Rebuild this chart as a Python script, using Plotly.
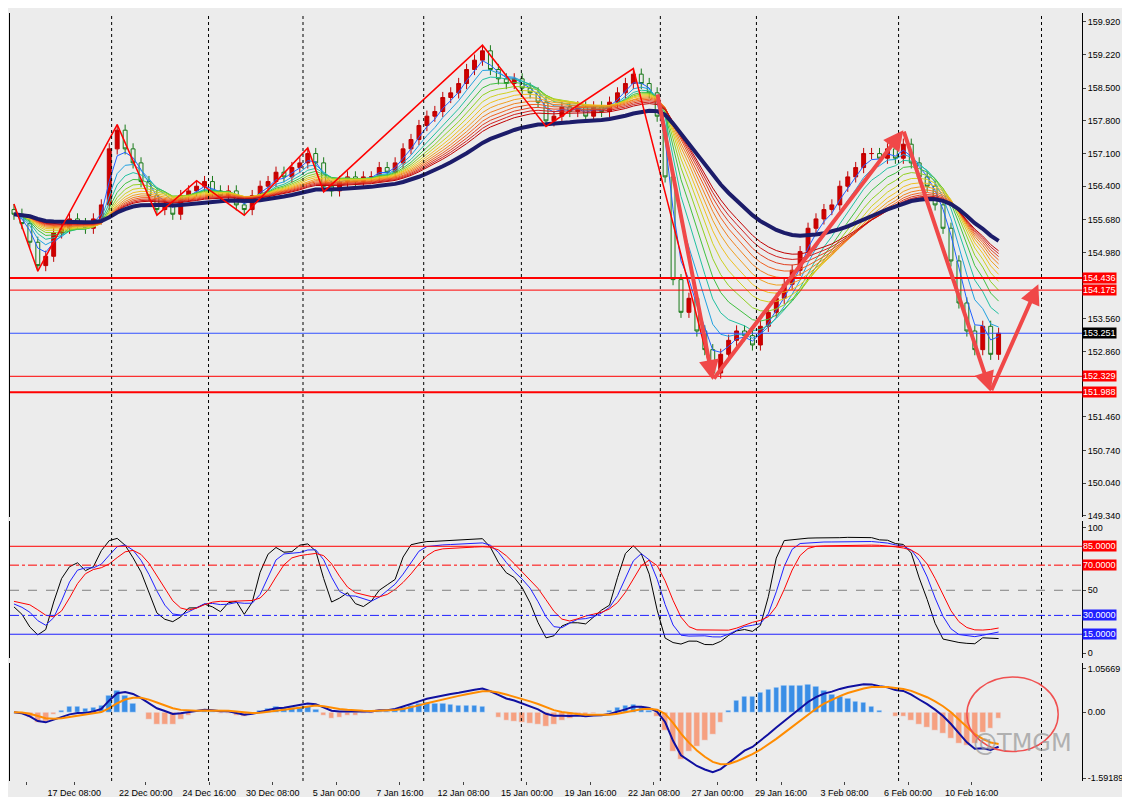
import plotly.graph_objects as go
import pandas as pd

# closes per bar
closes = [155.8, 155.6, 155.2, 154.7, 154.9, 155.4, 155.5, 155.7, 155.6, 155.5,
          155.7, 156.0, 157.2, 157.6, 157.2, 156.9, 156.5, 156.2, 155.9, 156.0,
          155.8, 156.2, 156.3, 156.4, 156.5, 156.3, 156.2, 156.3, 156.0, 155.9,
          156.2, 156.4, 156.5, 156.7, 156.6, 156.8, 156.9, 157.1, 156.9, 156.4,
          156.3, 156.5, 156.6, 156.5, 156.6, 156.6, 156.8, 156.7, 156.9, 157.2,
          157.4, 157.7, 157.9, 158.0, 158.3, 158.4, 158.6, 158.9, 159.1, 159.3,
          158.9, 158.7, 158.6, 158.7, 158.5, 158.4, 158.2, 157.8, 157.9, 158.1,
          158.0, 158.1, 157.9, 158.1, 158.0, 158.2, 158.4, 158.6, 158.8, 158.6,
          158.4, 157.9, 156.6, 154.4, 153.7, 154.0, 153.3, 152.9, 152.4, 152.8,
          153.1, 153.3, 153.2, 153.0, 153.4, 153.7, 154.0, 154.3, 154.6, 155.0,
          155.5, 155.7, 155.9, 156.0, 156.4, 156.6, 156.8, 157.1, 157.1, 157.0,
          157.2, 157.0, 157.3, 156.9, 156.6, 156.4, 156.0, 155.5, 154.8, 153.9,
          153.3, 152.9, 153.4, 152.8, 153.251]
first_open = 155.9
wick = 0.12

tick_idx = [1.6, 7.6, 16.6, 24.6, 32.6, 40.6, 48.6, 56.6, 64.6, 72.6, 80.6, 88.6, 96.6, 104.6, 112.6, 120.6]
tick_text = ["Dec 16:00", "17 Dec 08:00", "22 Dec 00:00", "24 Dec 16:00", "30 Dec 08:00",
             "5 Jan 00:00", "7 Jan 16:00", "12 Jan 08:00", "15 Jan 00:00", "19 Jan 16:00",
             "22 Jan 08:00", "27 Jan 00:00", "29 Jan 16:00", "3 Feb 08:00", "6 Feb 00:00",
             "10 Feb 16:00"]
separators = [12.3, 24.5, 36.4, 51.6, 63.9, 81.4, 93.5, 111.4, 129.4]

price_ticks = [159.920, 159.220, 158.500, 157.800, 157.100, 156.400, 155.680, 154.980,
               153.560, 152.860, 151.460, 150.740, 150.040, 149.340]
levels = [(154.436, 2, "red"), (154.175, 1, "red"), (153.251, 1, "#3050ff"),
          (152.329, 1, "red"), (151.988, 2, "red")]
zigzag_idx = [0, 3, 13, 18, 23, 29, 37, 39, 59, 67, 78, 88]
arrows = [(81, 158.4, 88, 152.25), (88, 152.25, 112, 157.6), (112, 157.6, 123, 152.0),
          (123, 152.0, 129, 154.3)]

s = pd.Series(closes)
opens = [first_open] + closes[:-1]
highs = [max(o, c) + wick for o, c in zip(opens, closes)]
lows = [min(o, c) - wick for o, c in zip(opens, closes)]
x = list(range(len(closes)))

fig = go.Figure()
fig.add_trace(go.Candlestick(x=x, open=opens, high=highs, low=lows, close=closes,
                             increasing=dict(line=dict(color="#c00000", width=1), fillcolor="#d00000"),
                             decreasing=dict(line=dict(color="#1a7a1a", width=1), fillcolor="#ececec"),
                             whiskerwidth=0, showlegend=False, yaxis="y"))

# rainbow of EMAs
rainbow = ["#2060ff", "#20a0e0", "#20c0a0", "#40c040", "#90d020", "#d0d020",
           "#f0c020", "#f0a020", "#f08020", "#f06020", "#e04020", "#d02020", "#c00000"]
for k, col in enumerate(rainbow):
    ema = s.ewm(span=3 + 2 * k, adjust=False).mean()
    fig.add_trace(go.Scatter(x=x, y=ema, mode="lines", line=dict(color=col, width=1),
                             showlegend=False, hoverinfo="skip"))
slow = s.ewm(span=36, adjust=False).mean()
fig.add_trace(go.Scatter(x=x, y=slow, mode="lines", line=dict(color="#1c1c6a", width=4),
                         showlegend=False))

# zigzag
zz_y = []
for k, i in enumerate(zigzag_idx):
    prev = closes[zigzag_idx[k - 1]] if k else closes[zigzag_idx[1]] + 1
    zz_y.append(highs[i] if closes[i] > prev else lows[i])
fig.add_trace(go.Scatter(x=zigzag_idx, y=zz_y, mode="lines", line=dict(color="#ff0000", width=1.5),
                         showlegend=False))

# stochastic-like oscillator lines
hi_s, lo_s = pd.Series(highs), pd.Series(lows)
n = 12
k_raw = 100 * (s - lo_s.rolling(n, min_periods=1).min()) / (
    hi_s.rolling(n, min_periods=1).max() - lo_s.rolling(n, min_periods=1).min())
k_line = 5 + 0.9 * k_raw.rolling(2, min_periods=1).mean()
d_line = k_line.rolling(3, min_periods=1).mean() * 0.9 + 6
slow_d = d_line.rolling(3, min_periods=1).mean() * 0.9 + 6
for series, col in [(k_line, "black"), (d_line, "#2020ff"), (slow_d, "#ff0000")]:
    fig.add_trace(go.Scatter(x=x, y=series, mode="lines", line=dict(color=col, width=1),
                             showlegend=False, yaxis="y2"))

# MACD
macd = s.ewm(span=6, adjust=False).mean() - s.ewm(span=13, adjust=False).mean()
signal = macd.ewm(span=5, adjust=False).mean()
hist = macd - signal
fig.add_trace(go.Bar(x=x, y=hist * 2.2, marker_color=["#3a8ee6" if v >= 0 else "#f6a080" for v in hist],
                     width=0.7, showlegend=False, yaxis="y3"))
fig.add_trace(go.Scatter(x=x, y=macd, mode="lines", line=dict(color="#1010a0", width=2),
                         showlegend=False, yaxis="y3"))
fig.add_trace(go.Scatter(x=x, y=signal, mode="lines", line=dict(color="#ff8c00", width=2),
                         showlegend=False, yaxis="y3"))

lab_font = dict(color="white", size=9, family="Liberation Sans")
shapes, annos = [], []
for xs in separators:
    shapes.append(dict(type="line", xref="x", yref="paper", x0=xs, x1=xs, y0=0, y1=1,
                       line=dict(color="black", width=1, dash="dot")))
for v, w, col in levels:
    shapes.append(dict(type="line", xref="paper", yref="y", x0=0, x1=1, y0=v, y1=v,
                       line=dict(color=col, width=w)))
    annos.append(dict(xref="paper", yref="y", x=1.0, y=v, text=f"{v:.3f}", showarrow=False,
                      xanchor="left", bgcolor="black" if col != "red" else "red",
                      font=lab_font, borderpad=0))
for v, col, dash in [(85, "red", "solid"), (70, "red", "dashdot"), (50, "grey", "dash"),
                     (30, "#2020ff", "dashdot"), (15, "#2020ff", "solid")]:
    shapes.append(dict(type="line", xref="paper", yref="y2", x0=0, x1=1, y0=v, y1=v,
                       line=dict(color=col, width=1, dash=dash)))
    if v != 50:
        annos.append(dict(xref="paper", yref="y2", x=1.0, y=v, text=f"{v:.4f}", showarrow=False,
                          xanchor="left", bgcolor=col, borderpad=0, font=lab_font))
for x0, y0, x1, y1 in arrows:
    annos.append(dict(xref="x", yref="y", axref="x", ayref="y", x=x1, y=y1, ax=x0, ay=y0,
                      showarrow=True, arrowhead=2, arrowsize=1, arrowwidth=4,
                      arrowcolor="#f04848", text=""))
shapes.append(dict(type="circle", xref="x", yref="y3", x0=120, x1=131.5, y0=-0.95, y1=0.85,
                   line=dict(color="#f05050", width=1.5)))
annos.append(dict(xref="x", yref="y3", x=127, y=-0.75, text="@TMGM", showarrow=False,
                  font=dict(size=24, color="rgba(150,150,150,0.7)", family="DejaVu Sans")))

tick_font = dict(size=9, family="Liberation Sans", color="black")
ax_common = dict(showline=True, linecolor="black", mirror=True, showgrid=False, zeroline=False,
                 side="right", ticks="outside", ticklen=3, tickfont=tick_font)
fig.update_layout(
    width=1130, height=797, margin=dict(l=2, r=56, t=5, b=24),
    paper_bgcolor="#ececec", plot_bgcolor="#ececec", bargap=0, shapes=shapes, annotations=annos,
    xaxis=dict(range=[-0.5, 134.5], tickvals=tick_idx, ticktext=tick_text, showgrid=False,
               zeroline=False, rangeslider=dict(visible=False), anchor="y3", tickangle=0,
               tickfont=tick_font, ticks="outside", ticklen=3),
    yaxis=dict(domain=[0.344, 1], range=[149.32, 160.11], tickvals=price_ticks,
               tickformat=".3f", **ax_common),
    yaxis2=dict(domain=[0.16, 0.338], range=[-4, 104.8], tickvals=[0, 50, 100], **ax_common),
    yaxis3=dict(domain=[0, 0.153], range=[-1.664, 1.177], tickvals=[1.05669, 0, -1.59189],
                ticktext=["1.05669", "0.00", "-1.59189"], **ax_common),
)
fig.write_html("out.html")
